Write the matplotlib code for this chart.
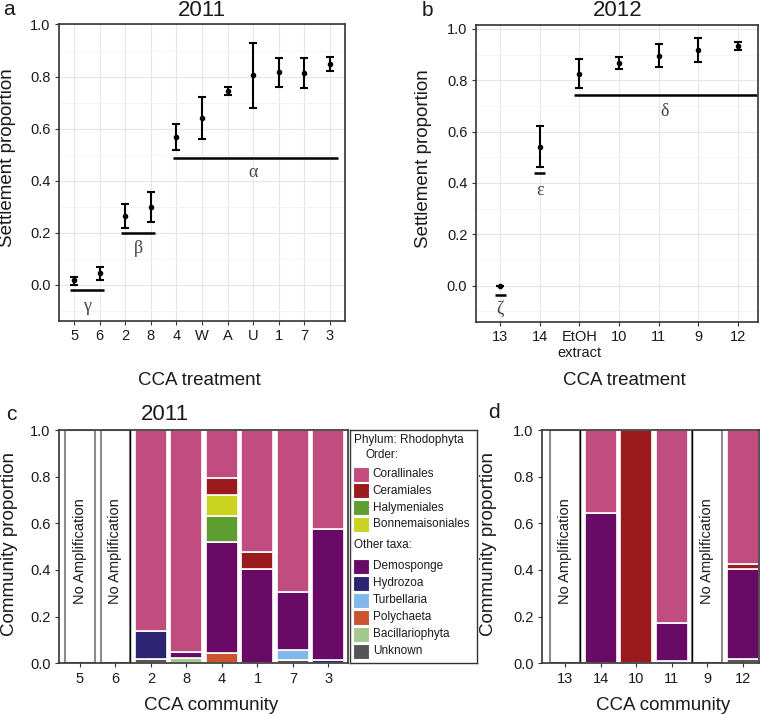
import numpy as np
import matplotlib.pyplot as plt
from matplotlib.ticker import FormatStrFormatter

plt.rcParams['font.family'] = ['Liberation Sans', 'DejaVu Sans']

W, H = 763, 714

# --- a: settlement 2011 ---
trt_2011 = ['5', '6', '2', '8', '4', 'W', 'A', 'U', '1', '7', '3']
mean_2011 = [0.016, 0.044, 0.265, 0.298, 0.568, 0.639, 0.744, 0.804, 0.816, 0.813, 0.850]
lo_2011 = [0.000, 0.019, 0.219, 0.239, 0.516, 0.558, 0.728, 0.679, 0.761, 0.754, 0.821]
hi_2011 = [0.029, 0.066, 0.309, 0.355, 0.619, 0.721, 0.761, 0.929, 0.871, 0.871, 0.876]
grp_2011 = ['γ', 'β', 'α']
grp_2011_span = [(0.85, 2.15), (2.85, 4.15), (4.85, 11.3)]
grp_2011_y = [-0.022, 0.198, 0.485]
grp_2011_lab = [(1.5, -0.085), (3.5, 0.14), (8.0, 0.43)]

# --- b: settlement 2012 ---
trt_2012 = ['13', '14', 'EtOH\nextract', '10', '11', '9', '12']
mean_2012 = [0.000, 0.542, 0.826, 0.868, 0.896, 0.918, 0.932]
lo_2012 = [0.000, 0.464, 0.770, 0.842, 0.851, 0.870, 0.919]
hi_2012 = [0.000, 0.621, 0.881, 0.891, 0.940, 0.966, 0.947]
grp_2012 = ['ζ', 'ε', 'δ']
grp_2012_span = [(0.86, 1.14), (1.86, 2.14), (2.87, 7.47)]
grp_2012_y = [-0.035, 0.438, 0.743]
grp_2012_lab = [(1.0, -0.09), (2.0, 0.37), (5.15, 0.68)]

# --- c/d: community composition ---
taxa = ['Unknown', 'Bacillariophyta', 'Polychaeta', 'Turbellaria', 'Hydrozoa',
        'Demosponge', 'Halymeniales', 'Bonnemaisoniales', 'Ceramiales', 'Corallinales']
taxa_colors = ['#555555', '#A3C98E', '#C8552F', '#80B9E9', '#2C2472',
               '#690B66', '#5E9E31', '#CAD31F', '#9A1A1D', '#C04C80']

comm_2011 = ['5', '6', '2', '8', '4', '1', '7', '3']
unknown_2011 = [0, 0, 0.020, 0, 0, 0, 0.013, 0]
bacill_2011 = [0, 0, 0, 0.023, 0, 0, 0, 0]
polych_2011 = [0, 0, 0, 0, 0.046, 0, 0, 0]
turbel_2011 = [0, 0, 0, 0, 0, 0, 0.043, 0]
hydroz_2011 = [0, 0, 0.120, 0, 0, 0, 0, 0.014]
demosp_2011 = [0, 0, 0, 0.026, 0.473, 0.404, 0.248, 0.563]
halyme_2011 = [0, 0, 0, 0, 0.111, 0, 0, 0]
bonnem_2011 = [0, 0, 0, 0, 0.091, 0, 0, 0]
cerami_2011 = [0, 0, 0, 0, 0.075, 0.072, 0, 0]
corall_2011 = [0, 0, 0.860, 0.951, 0.204, 0.524, 0.696, 0.423]

comm_2012 = ['13', '14', '10', '11', '9', '12']
unknown_2012 = [0, 0, 0, 0, 0, 0.017]
bacill_2012 = [0, 0, 0, 0, 0, 0]
polych_2012 = [0, 0, 0, 0, 0, 0]
turbel_2012 = [0, 0, 0, 0, 0, 0]
hydroz_2012 = [0, 0, 0, 0.008, 0, 0]
demosp_2012 = [0, 0.646, 0, 0.163, 0, 0.386]
halyme_2012 = [0, 0, 0, 0, 0, 0]
bonnem_2012 = [0, 0, 0, 0, 0, 0]
cerami_2012 = [0, 0, 1.0, 0, 0, 0.021]
corall_2012 = [0, 0.354, 0, 0.829, 0, 0.576]

legend_rhodo = ['Corallinales', 'Ceramiales', 'Halymeniales', 'Bonnemaisoniales']
legend_other = ['Demosponge', 'Hydrozoa', 'Turbellaria', 'Polychaeta', 'Bacillariophyta', 'Unknown']

TXT = '#1a1a1a'
SPINE = '#333333'
GREEK = ['Liberation Serif', 'DejaVu Serif']

fig = plt.figure(figsize=(W / 100, H / 100), dpi=100)


def box(l, t, r, b):
    return [l / W, 1 - b / H, (r - l) / W, (b - t) / H]


def ftext(x, y, s, **kw):
    kw.setdefault('ha', 'center')
    kw.setdefault('va', 'baseline')
    kw.setdefault('color', TXT)
    fig.text(x / W, 1 - y / H, s, **kw)


def style(ax):
    for sp in ax.spines.values():
        sp.set_color(SPINE)
        sp.set_linewidth(1.2)
    ax.tick_params(length=3, width=0.8, color=SPINE, labelsize=10.5,
                   labelcolor=TXT, pad=3)
    ax.yaxis.set_major_formatter(FormatStrFormatter('%.1f'))


def settlement(ax, labels, mean, lo, hi, groups, spans, ys, labpos, xlim, ylim):
    x = np.arange(1, len(labels) + 1)
    style(ax)
    ax.set_axisbelow(True)
    ax.set_yticks(np.arange(0, 1.01, 0.2))
    ax.set_yticks(np.arange(-0.1, 1.0, 0.2), minor=True)
    ax.tick_params(which='minor', length=0)
    ax.grid(True, which='major', color='#E6E6E6', lw=0.8)
    ax.grid(True, which='minor', axis='y', color='#F3F3F3', lw=0.6)
    err = [np.subtract(mean, lo), np.subtract(hi, mean)]
    ax.errorbar(x, mean, yerr=err, fmt='o', ms=3, color='black',
                elinewidth=1.5, capsize=3.2, capthick=1.5)
    for g, (x0, x1), y, (lx, ly) in zip(groups, spans, ys, labpos):
        ax.hlines(y, x0, x1, color='black', lw=1.8)
        ax.text(lx, ly, g, family=GREEK, fontsize=13, color='#444444',
                ha='center', va='center')
    ax.set_xticks(x, labels)
    ax.set_xlim(*xlim)
    ax.set_ylim(*ylim)


def community(ax, labels, rows, xlim):
    x = np.arange(1, len(labels) + 1)
    style(ax)
    rows = np.array(rows, dtype=float)
    total = rows.sum(axis=0)
    noamp = total == 0
    bottom = np.zeros(len(x))
    for vals, c in zip(rows, taxa_colors):
        m = vals > 0
        ax.bar(x[m], vals[m], bottom=bottom[m], width=0.9, color=c,
               edgecolor='white', linewidth=1.2)
        bottom += vals
    for i in np.where(noamp)[0]:
        ax.bar(x[i], 1, width=0.84, color='white', edgecolor='#8c8c8c', lw=1.5)
        ax.text(x[i], 0.48, 'No Amplification', rotation=90, fontsize=10.5,
                color=TXT, ha='center', va='center')
        if i > 0 and not noamp[i - 1]:
            ax.axvline(x[i] - 0.42, color='black', lw=1.0)
        elif i + 1 < len(x) and not noamp[i + 1]:
            ax.axvline(x[i] + 0.42, color='black', lw=1.0)
    ax.set_xticks(x, labels)
    ax.set_yticks(np.arange(0, 1.01, 0.2))
    ax.set_xlim(*xlim)
    ax.set_ylim(0, 1)


# a
ax_a = fig.add_axes(box(59, 24.5, 345, 321))
settlement(ax_a, trt_2011, mean_2011, lo_2011, hi_2011, grp_2011,
           grp_2011_span, grp_2011_y, grp_2011_lab, (0.41, 11.59), (-0.14, 1.0))

# b
ax_b = fig.add_axes(box(475.7, 25, 757.7, 321.7))
settlement(ax_b, trt_2012, mean_2012, lo_2012, hi_2012, grp_2012,
           grp_2012_span, grp_2012_y, grp_2012_lab, (0.38, 7.5), (-0.14, 1.015))

# c
ax_c = fig.add_axes(box(59, 430, 348, 663.3))
community(ax_c, comm_2011,
          [unknown_2011, bacill_2011, polych_2011, turbel_2011, hydroz_2011,
           demosp_2011, halyme_2011, bonnem_2011, cerami_2011, corall_2011],
          (0.41, 8.55))

# d
ax_d = fig.add_axes(box(542, 430, 759, 663.3))
community(ax_d, comm_2012,
          [unknown_2012, bacill_2012, polych_2012, turbel_2012, hydroz_2012,
           demosp_2012, halyme_2012, bonnem_2012, cerami_2012, corall_2012],
          (0.35, 6.45))

# legend box (drawn by hand in its own axes, pixel units)
ax_l = fig.add_axes(box(350, 430, 477, 663))
ax_l.set_xlim(0, 127)
ax_l.set_ylim(233, 0)
ax_l.set_xticks([])
ax_l.set_yticks([])
for sp in ax_l.spines.values():
    sp.set_color(SPINE)
    sp.set_linewidth(1.0)
col = dict(zip(taxa, taxa_colors))
ax_l.text(4, 9.5, 'Phylum: Rhodophyta', fontsize=8.5, color=TXT, va='center')
ax_l.text(15, 25.5, 'Order:', fontsize=8.5, color=TXT, va='center')
for k, name in enumerate(legend_rhodo):
    y = 44 + 16.8 * k
    ax_l.add_patch(plt.Rectangle((3.3, y - 7.5), 15.5, 15, color=col[name], ec='white', lw=0.8))
    ax_l.text(22.7, y, name, fontsize=8.5, color=TXT, va='center')
ax_l.text(4, 115, 'Other taxa:', fontsize=8.5, color=TXT, va='center')
for k, name in enumerate(legend_other):
    y = 136 + 17 * k
    ax_l.add_patch(plt.Rectangle((3.3, y - 7.5), 15.5, 15, color=col[name], ec='white', lw=0.8))
    ax_l.text(22.7, y, name, fontsize=8.5, color=TXT, va='center')

# titles, panel letters, axis labels
ftext(9, 15, 'a', fontsize=15)
ftext(427, 16.5, 'b', fontsize=15)
ftext(11, 420, 'c', fontsize=15)
ftext(494, 418, 'd', fontsize=15)
ftext(202, 16.5, '2011', fontsize=16)
ftext(618, 16.5, '2012', fontsize=16)
ftext(165, 420, '2011', fontsize=16)
ftext(199.5, 385, 'CCA treatment', fontsize=13.5)
ftext(624.5, 385, 'CCA treatment', fontsize=13.5)
ftext(211, 710, 'CCA community', fontsize=13.5)
ftext(663.5, 710, 'CCA community', fontsize=13.5)
ftext(8, 158, 'Settlement proportion', fontsize=13.5, rotation=90, va='center')
ftext(424, 159, 'Settlement proportion', fontsize=13.5, rotation=90, va='center')
ftext(9.5, 544, 'Community proportion', fontsize=13.5, rotation=90, va='center')
ftext(488.5, 544, 'Community proportion', fontsize=13.5, rotation=90, va='center')

fig.savefig('out.png', dpi=100)
